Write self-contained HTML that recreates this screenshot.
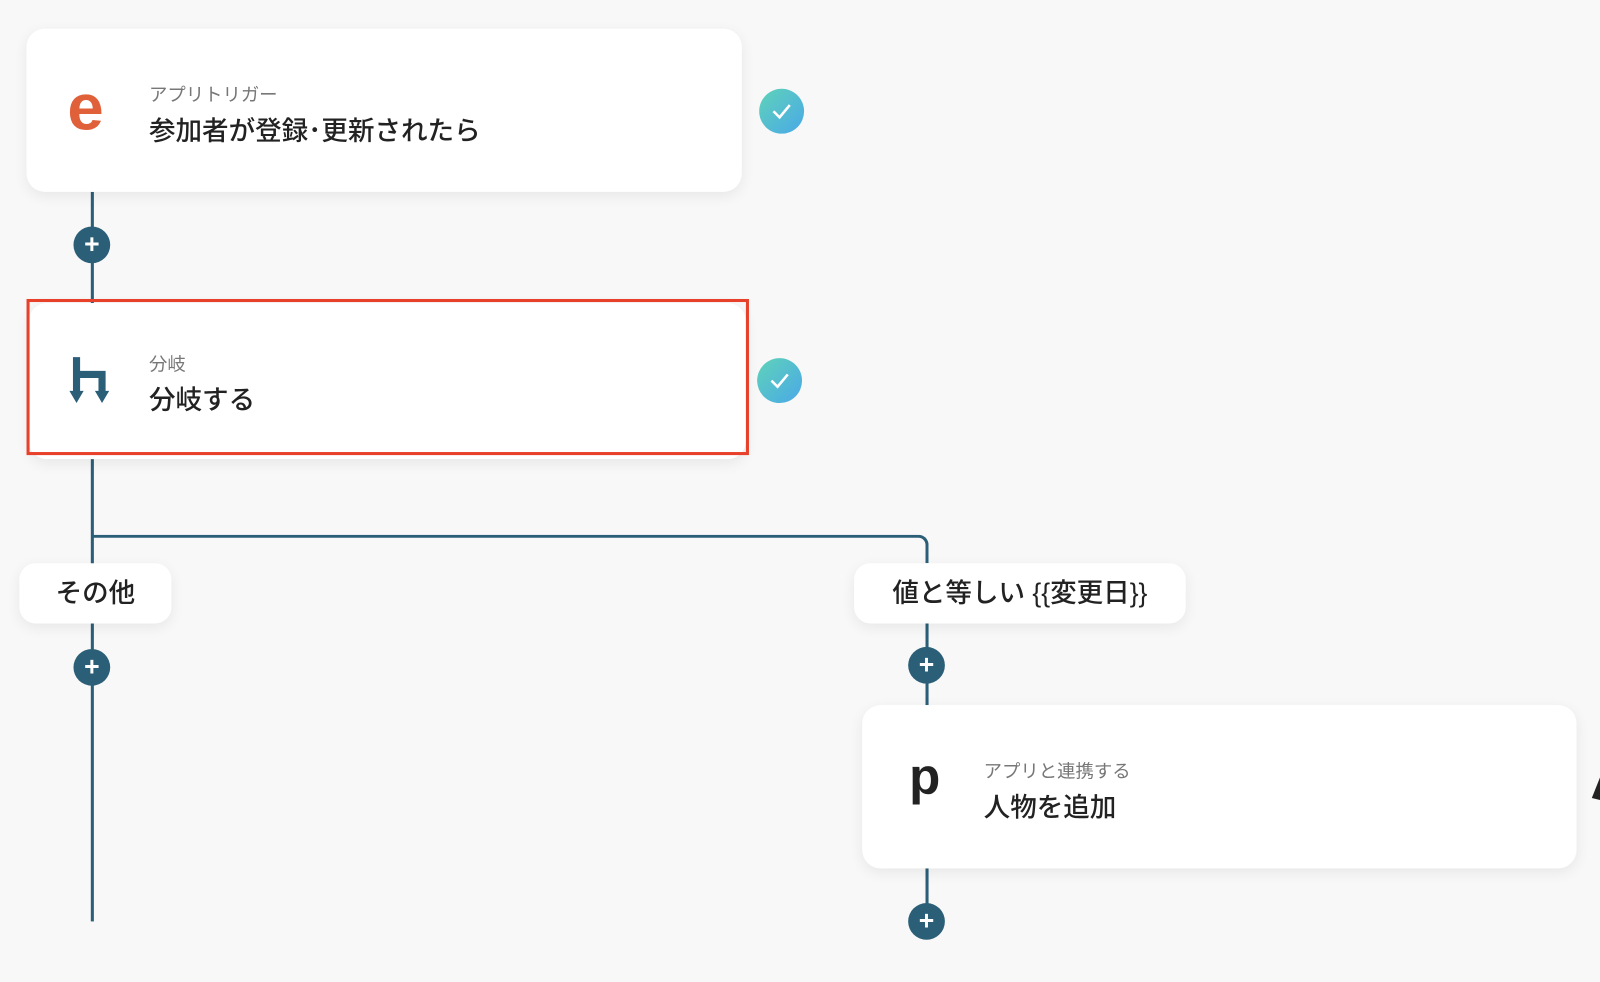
<!DOCTYPE html>
<html><head><meta charset="utf-8"><style>
body{margin:0;width:1600px;height:982px;background:#f8f8f8;position:relative;overflow:hidden;font-family:"Liberation Sans","Noto Sans CJK JP",sans-serif;}
#w{position:absolute;left:0;top:0;width:1568px;height:962px;transform:scale(1.0204);transform-origin:0 0}
.a{position:absolute}
.card{position:absolute;background:#fff;border-radius:18px;box-shadow:0 4px 14px rgba(0,0,0,0.07);}
.sub{position:absolute;font-size:18px;color:#777}
.tit{position:absolute;font-size:26px;color:#222;font-weight:500}
.ln{position:absolute;background:#2b5f78}
.plus{position:absolute;width:36px;height:36px;border-radius:50%;background:#2b5f78;color:#fff;font-size:26px;font-weight:bold;line-height:35px;text-align:center}
.chk{position:absolute;width:44px;height:44px;border-radius:50%;background:linear-gradient(135deg,#5fd3b8,#4aa8e8);}
.pill{position:absolute;background:#fff;border-radius:16px;box-shadow:0 4px 14px rgba(0,0,0,0.07);font-size:26px;color:#222;font-weight:500;text-align:center;line-height:59px}
</style></head><body><div id="w">
<div class="ln" style="left:89px;top:188px;width:3px;height:110px"></div>
<div class="ln" style="left:89px;top:448px;width:3px;height:455px"></div>
<div class="a" style="left:89px;top:524px;height:28px;border-top:3px solid #2b5f78;border-right:3px solid #2b5f78;border-top-right-radius:10px;box-sizing:border-box;width:821px"></div>
<div class="ln" style="left:907px;top:611px;width:3px;height:80px"></div>
<div class="ln" style="left:907px;top:851px;width:3px;height:52px"></div>

<div class="card" style="left:26px;top:28px;width:701px;height:160px"></div>
<div class="a" style="left:66px;top:70px;font-size:64px;font-weight:bold;color:#e0603a;line-height:70px">e</div>
<div class="sub" style="left:146px;top:79px">アプリトリガー</div>
<div class="tit" style="left:146px;top:108px">参加者が登録･更新されたら</div>
<div class="chk" style="left:744px;top:87px"></div>
<svg class="a" style="left:744px;top:87px" width="44" height="44"><path d="M14 22 L20 28 L30 16" stroke="#fff" stroke-width="2.5" fill="none"/></svg>

<div class="plus" style="left:72px;top:222px">+</div>

<div class="card" style="left:28px;top:297px;width:703px;height:153px"></div>
<div class="a" style="left:26px;top:293px;width:708px;height:153px;border:3px solid #e8412b;box-sizing:border-box"></div>
<svg class="a" style="left:66px;top:348px" width="50" height="50"><path d="M9 2 V38 M9 19 H34 V38" stroke="#2b5f78" stroke-width="7" fill="none"/><path d="M2 35 H16 L9 47Z M27 35 H41 L34 47Z" fill="#2b5f78"/></svg>
<div class="sub" style="left:146px;top:343px">分岐</div>
<div class="tit" style="left:146px;top:372px">分岐する</div>
<div class="chk" style="left:742px;top:351px"></div>
<svg class="a" style="left:742px;top:351px" width="44" height="44"><path d="M14 22 L20 28 L30 16" stroke="#fff" stroke-width="2.5" fill="none"/></svg>

<div class="pill" style="left:19px;top:552px;width:149px;height:59px">その他</div>
<div class="pill" style="left:837px;top:552px;width:325px;height:59px">値と等しい {{変更日}}</div>

<div class="plus" style="left:72px;top:636px">+</div>
<div class="plus" style="left:890px;top:634px">+</div>

<div class="card" style="left:845px;top:691px;width:700px;height:160px"></div>
<div class="a" style="left:891px;top:731px;font-size:50px;font-weight:bold;color:#222;line-height:60px">p</div>
<div class="sub" style="left:964px;top:742px">アプリと連携する</div>
<div class="tit" style="left:964px;top:771px">人物を追加</div>
<svg class="a" style="left:1558px;top:760px" width="12" height="28"><path d="M10 2 L2 22 L10 24Z" fill="#222"/></svg>

<div class="plus" style="left:890px;top:885px">+</div>
</div></body></html>
